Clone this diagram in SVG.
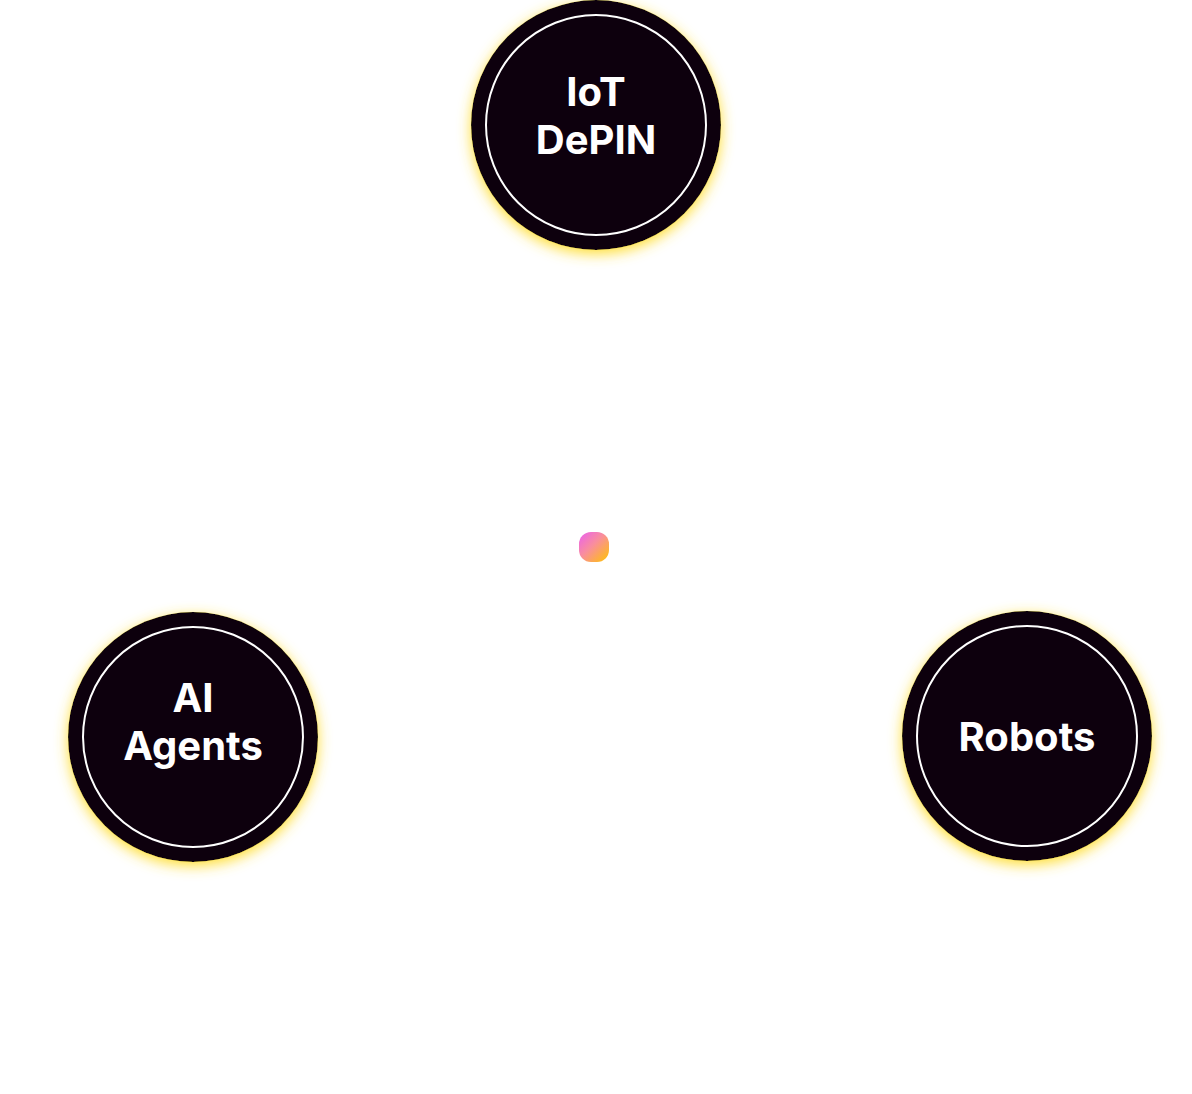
<svg xmlns="http://www.w3.org/2000/svg" width="1192" height="1094" viewBox="0 0 1192 1094">
  <style>
    .outer { fill: #0b030d; filter: url(#glow); }
    .inner { fill: none; stroke: #ffffff; stroke-width: 2; }
    .lbl { font-family: Inter, "Liberation Sans", sans-serif; font-weight: 700; font-size: 40px; fill: #ffffff; text-anchor: middle; }
  </style>
  <defs>
    <filter id="glow" x="-25%" y="-25%" width="150%" height="150%">
      <feDropShadow dx="0" dy="4" stdDeviation="7" flood-color="#ffde30" flood-opacity="1"/>
    </filter>
    <linearGradient id="dotGrad" x1="0" y1="0" x2="1" y2="1">
      <stop offset="0" stop-color="#ea5ff0"/>
      <stop offset="0.45" stop-color="#f98e9c"/>
      <stop offset="1" stop-color="#ffc400"/>
    </linearGradient>
  </defs>
  <rect width="1192" height="1094" fill="#ffffff"/>
  <g id="connectors"></g>
  <g id="center-dot">
    <rect x="579" y="532" width="30" height="30" rx="12" ry="12" fill="url(#dotGrad)"/>
  </g>
  <g id="node-iot">
    <circle class="outer" cx="596" cy="125" r="125"/>
    <circle class="inner" cx="596" cy="125" r="110"/>
    <text class="lbl" x="596" y="106">IoT</text>
    <text class="lbl" x="596" y="154">DePIN</text>
  </g>
  <g id="node-ai">
    <circle class="outer" cx="193" cy="737" r="125"/>
    <circle class="inner" cx="193" cy="737" r="110"/>
    <text class="lbl" x="193" y="712">AI</text>
    <text class="lbl" x="193" y="760">Agents</text>
  </g>
  <g id="node-robots">
    <circle class="outer" cx="1027" cy="736" r="125"/>
    <circle class="inner" cx="1027" cy="736" r="110"/>
    <text class="lbl" x="1027" y="751">Robots</text>
  </g>
</svg>
